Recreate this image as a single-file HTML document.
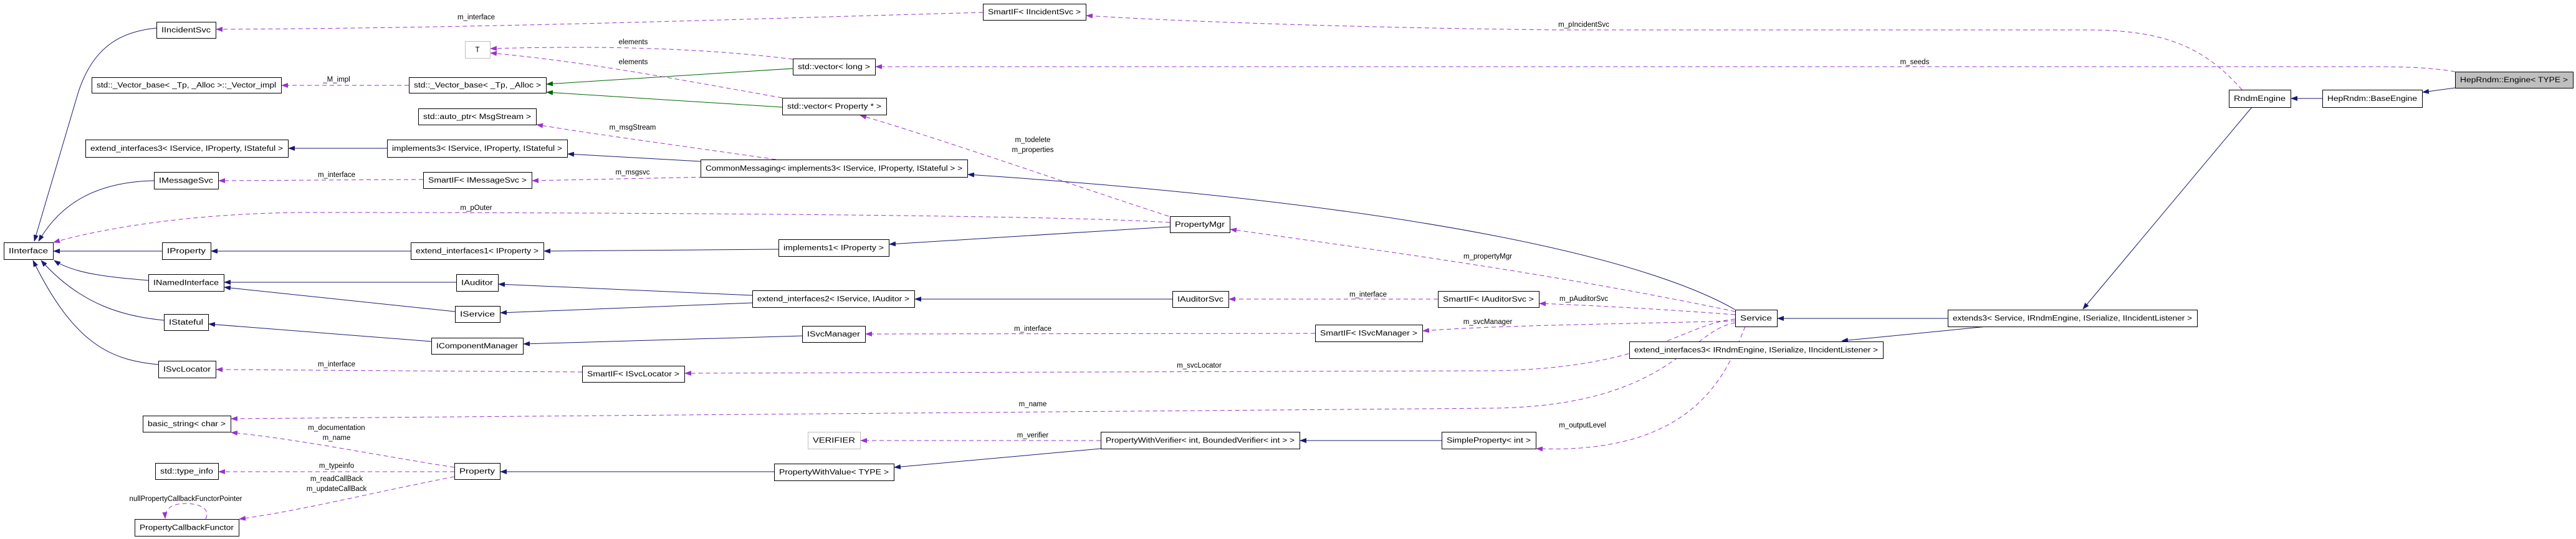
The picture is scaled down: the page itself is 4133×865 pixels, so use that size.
<!DOCTYPE html>
<html><head><meta charset="utf-8"><style>
html,body{margin:0;padding:0;background:#fff}
svg{display:block}
text{font-family:"Liberation Sans",sans-serif;font-size:11.5px;fill:#000}
</style></head><body>
<svg id="g" width="4133" height="865" viewBox="0 0 4133 865" xmlns="http://www.w3.org/2000/svg">
<defs>
<marker id="an" markerWidth="11" markerHeight="8" refX="10" refY="4" orient="auto" markerUnits="userSpaceOnUse"><path d="M0,0 L11,4 L0,8 z" fill="#191970"/></marker>
<marker id="ap" markerWidth="11" markerHeight="8" refX="10" refY="4" orient="auto" markerUnits="userSpaceOnUse"><path d="M0,0 L11,4 L0,8 z" fill="#9a32cd"/></marker>
<marker id="ag" markerWidth="11" markerHeight="8" refX="10" refY="4" orient="auto" markerUnits="userSpaceOnUse"><path d="M0,0 L11,4 L0,8 z" fill="#006400"/></marker>
</defs>
</svg>
<script>
var NS="http://www.w3.org/2000/svg";
var svg=document.getElementById('g');
// [name, label, x1, y1, x2, y2, style]
var nodes=[
["iincidentsvc-node","IIncidentSvc",251,35,346,61,0],
["vector-impl-node","std::_Vector_base< _Tp, _Alloc >::_Vector_impl",147,124,451,149,0],
["extend-interfaces3-service-node","extend_interfaces3< IService, IProperty, IStateful >",137,224,462,252,0],
["imessagesvc-node","IMessageSvc",247,276,350,303,0],
["iinterface-node","IInterface",6,389,85,416,0],
["iproperty-node","IProperty",260,389,338,416,0],
["inamedinterface-node","INamedInterface",238,440,359,467,0],
["istateful-node","IStateful",263,504,334,530,0],
["isvclocator-node","ISvcLocator",254,579,346,606,0],
["basic-string-node","basic_string< char >",229,667,370,693,0],
["type-info-node","std::type_info",249,743,350,769,0],
["property-callback-functor-node","PropertyCallbackFunctor",216,833,383,860,0],
["vector-base-node","std::_Vector_base< _Tp, _Alloc >",656,124,876,149,0],
["auto-ptr-node","std::auto_ptr< MsgStream >",671,174,860,200,0],
["implements3-node","implements3< IService, IProperty, IStateful >",621,224,910,252,0],
["smartif-imessagesvc-node","SmartIF< IMessageSvc >",679,276,853,302,0],
["extend-interfaces1-node","extend_interfaces1< IProperty >",659,389,872,416,0],
["icomponentmanager-node","IComponentManager",692,542,839,568,0],
["t-node","T",746,66,786,93,1],
["vector-long-node","std::vector< long >",1272,94,1404,120,0],
["vector-property-node","std::vector< Property * >",1255,157,1422,184,0],
["commonmessaging-node","CommonMessaging< implements3< IService, IProperty, IStateful > >",1124,256,1552,284,0],
["implements1-node","implements1< IProperty >",1249,384,1426,411,0],
["iauditor-node","IAuditor",732,440,799,467,0],
["iservice-node","IService",730,491,802,517,0],
["extend-interfaces2-node","extend_interfaces2< IService, IAuditor >",1207,466,1467,493,0],
["isvcmanager-node","ISvcManager",1287,523,1388,549,0],
["smartif-isvclocator-node","SmartIF< ISvcLocator >",934,587,1098,613,0],
["verifier-node","VERIFIER",1296,693,1380,720,1],
["property-node","Property",729,743,802,769,0],
["property-with-value-node","PropertyWithValue< TYPE >",1242,744,1434,771,0],
["smartif-iincidentsvc-node","SmartIF< IIncidentSvc >",1577,6,1742,32,0],
["propertymgr-node","PropertyMgr",1877,347,1973,373,0],
["iauditorsvc-node","IAuditorSvc",1881,467,1971,493,0],
["smartif-iauditorsvc-node","SmartIF< IAuditorSvc >",2307,467,2469,493,0],
["smartif-isvcmanager-node","SmartIF< ISvcManager >",2110,521,2282,548,0],
["property-with-verifier-node","PropertyWithVerifier< int, BoundedVerifier< int > >",1766,693,2085,720,0],
["simple-property-node","SimpleProperty< int >",2313,693,2464,720,0],
["service-node","Service",2784,497,2851,524,0],
["extends3-node","extends3< Service, IRndmEngine, ISerialize, IIncidentListener >",3125,497,3525,524,0],
["extend-interfaces3-rndm-node","extend_interfaces3< IRndmEngine, ISerialize, IIncidentListener >",2614,548,3021,575,0],
["rndmengine-node","RndmEngine",3576,144,3675,172,0],
["heprndm-baseengine-node","HepRndm::BaseEngine",3726,144,3886,172,0],
["heprndm-engine-node","HepRndm::Engine< TYPE >",3939,115,4128,141,2]
];
// [name, color(n/p/g), path]
var edges=[
["edge-iincidentsvc-iinterface","n","M251,45 C200,50 150,70 125,150 L55,387"],
["edge-imessagesvc-iinterface","n","M247,290 C150,292 95,330 62,387"],
["edge-iproperty-iinterface","n","M260,403 L86,403"],
["edge-inamedinterface-iinterface","n","M238,450 C180,445 120,440 87,418"],
["edge-istateful-iinterface","n","M263,514 C200,508 130,490 66,418"],
["edge-isvclocator-iinterface","n","M254,585 C180,578 120,555 53,418"],
["edge-implements3-extend3","n","M621,238 L463,238"],
["edge-commonmessaging-implements3","n","M1124,259 L911,247"],
["edge-service-commonmessaging","n","M2784,497 C2650,420 2300,330 1553,280"],
["edge-extend1-iproperty","n","M659,403 L339,403"],
["edge-implements1-extend1","n","M1249,400 L873,403"],
["edge-propertymgr-implements1","n","M1877,364 L1427,392"],
["edge-iauditor-inamedinterface","n","M732,453 L360,453"],
["edge-iservice-inamedinterface","n","M730,500 L360,461"],
["edge-extend2-iauditor","n","M1207,474 L800,456"],
["edge-extend2-iservice","n","M1207,486 L803,502"],
["edge-iauditorsvc-extend2","n","M1881,480 L1468,480"],
["edge-icomponentmanager-istateful","n","M692,548 L335,520"],
["edge-isvcmanager-icomponentmanager","n","M1287,539 L840,552"],
["edge-propertywithvalue-property","n","M1242,757 L803,757"],
["edge-propertywithverifier-propertywithvalue","n","M1766,720 L1435,750"],
["edge-simpleproperty-propertywithverifier","n","M2313,707 L2086,707"],
["edge-extends3-service","n","M3125,511 L2852,511"],
["edge-extends3-extendinterfaces3","n","M3188,524 L2955,547"],
["edge-rndmengine-extends3","n","M3613,172 L3342,496"],
["edge-baseengine-rndmengine","n","M3726,158 L3676,158"],
["edge-engine-baseengine","n","M3939,141 L3887,148"],
["edge-vectorlong-vectorbase","g","M1272,110 L877,135"],
["edge-vectorproperty-vectorbase","g","M1255,172 L877,148"],
["edge-smartif-iincidentsvc","p","M1577,20 C1200,30 800,45 347,47"],
["edge-rndmengine-smartif-iincidentsvc","p","M3597,144 C3540,80 3480,48 3350,48 L2500,48 C2200,45 1900,35 1743,25"],
["edge-engine-vectorlong","p","M3939,115 C3900,108 3850,107 3800,107 L1405,107"],
["edge-vectorbase-vectorimpl","p","M656,137 L452,137"],
["edge-vectorlong-t","p","M1272,95 C1150,80 1000,72 787,78"],
["edge-vectorproperty-t","p","M1255,157 C1100,130 950,100 787,85"],
["edge-commonmessaging-autoptr","p","M1245,256 C1100,235 950,215 861,200"],
["edge-commonmessaging-smartif-msgsvc","p","M1140,284 L854,290"],
["edge-smartif-msgsvc-imessagesvc","p","M679,288 L351,290"],
["edge-propertymgr-iinterface","p","M1877,357 C1700,345 1000,341 500,341 C300,341 150,370 86,389"],
["edge-propertymgr-vectorproperty","p","M1875,347 C1700,290 1500,220 1380,185"],
["edge-service-propertymgr","p","M2784,500 C2500,440 2200,400 1974,368"],
["edge-smartif-auditorsvc-iauditorsvc","p","M2307,480 L1972,480"],
["edge-service-smartif-auditorsvc","p","M2784,505 C2650,495 2550,490 2470,487"],
["edge-service-smartif-svcmanager","p","M2784,515 C2600,520 2400,522 2283,531"],
["edge-smartif-svcmanager-isvcmanager","p","M2110,535 L1389,536"],
["edge-service-smartif-svclocator","p","M2784,512 C2700,520 2650,590 2400,595 L1099,599"],
["edge-smartif-svclocator-isvclocator","p","M934,597 L347,593"],
["edge-service-basicstring","p","M2784,518 C2710,530 2680,650 2400,655 L371,672"],
["edge-property-basicstring","p","M729,750 C600,730 480,705 371,694"],
["edge-property-typeinfo","p","M729,757 L351,757"],
["edge-property-callbackfunctor","p","M729,765 C600,790 480,820 384,833"],
["edge-callbackfunctor-self","p","M330,833 C340,812 310,808 298,808 C278,808 264,815 265,832"],
["edge-propertywithverifier-verifier","p","M1766,707 L1381,707"],
["edge-service-simpleproperty","p","M2800,524 C2770,600 2720,730 2465,720"]
];
// [name, text, x, y]
var labels=[
["label-m-interface-incident","m_interface",764,31],
["label-m-pincidentsvc","m_pIncidentSvc",2541,43],
["label-m-seeds","m_seeds",3072,103],
["label-m-impl","_M_impl",540,131],
["label-elements-1","elements",1016,71],
["label-elements-2","elements",1016,103],
["label-m-msgstream","m_msgStream",1015,208],
["label-m-todelete","m_todelete",1657,228],
["label-m-properties","m_properties",1657,244],
["label-m-msgsvc","m_msgsvc",1015,280],
["label-m-interface-msg","m_interface",540,284],
["label-m-pouter","m_pOuter",764,337],
["label-m-propertymgr","m_propertyMgr",2387,415],
["label-m-interface-auditor","m_interface",2195,476],
["label-m-pauditorsvc","m_pAuditorSvc",2541,483],
["label-m-svcmanager","m_svcManager",2387,520],
["label-m-interface-svcmanager","m_interface",1657,531],
["label-m-interface-svclocator","m_interface",540,588],
["label-m-svclocator","m_svcLocator",1924,590],
["label-m-name","m_name",1657,652],
["label-m-outputlevel","m_outputLevel",2539,686],
["label-m-documentation","m_documentation",540,690],
["label-m-name-2","m_name",540,706],
["label-m-verifier","m_verifier",1657,702],
["label-m-typeinfo","m_typeinfo",540,751],
["label-m-readcallback","m_readCallBack",540,772],
["label-m-updatecallback","m_updateCallBack",540,788],
["label-null-callback-pointer","nullPropertyCallbackFunctorPointer",298,804]
];
var col={n:"#191970",p:"#9a32cd",g:"#006400"};
edges.forEach(function(e){
  var p=document.createElementNS(NS,'path');
  
  
  p.setAttribute('d',e[2]);
  p.setAttribute('fill','none');
  p.setAttribute('stroke',col[e[1]]);
  p.setAttribute('stroke-width','1');
  if(e[1]=='p'){p.setAttribute('stroke-dasharray','7,5');}
  p.setAttribute('marker-end','url(#a'+e[1]+')');
  svg.appendChild(p);
});
nodes.forEach(function(n){
  var g=document.createElementNS(NS,'g');
  
  
  var r=document.createElementNS(NS,'rect');
  
  
  r.setAttribute('x',n[2]+0.5);r.setAttribute('y',n[3]+0.5);
  r.setAttribute('width',n[4]-n[2]);r.setAttribute('height',n[5]-n[3]);
  r.setAttribute('fill',n[6]==2?'#bfbfbf':'#fff');
  r.setAttribute('stroke',n[6]==1?'#bfbfbf':'#000');
  g.appendChild(r);
  var t=document.createElementNS(NS,'text');
  
  
  t.setAttribute('x',(n[2]+n[4])/2);
  t.setAttribute('y',(n[3]+n[5])/2+4);
  t.setAttribute('text-anchor','middle');
  var w=n[4]-n[2]-16;
  if(n[1].length>3){t.setAttribute('textLength',w);t.setAttribute('lengthAdjust','spacingAndGlyphs');}
  t.textContent=n[1];
  g.appendChild(t);
  svg.appendChild(g);
});
labels.forEach(function(l){
  var t=document.createElementNS(NS,'text');
  
  
  t.setAttribute('x',l[2]);t.setAttribute('y',l[3]);
  t.setAttribute('text-anchor','middle');
  t.textContent=l[1];
  svg.appendChild(t);
});
</script>
</body></html>
